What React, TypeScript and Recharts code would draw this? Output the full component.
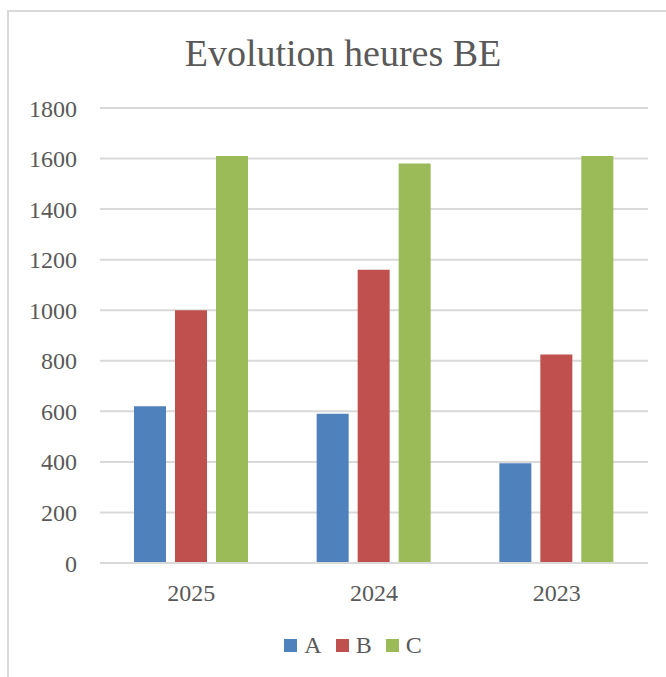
import React from "react";
import { BarChart, Bar, XAxis, YAxis, CartesianGrid, Legend } from "recharts";

const categories = ["2025", "2024", "2023"];
const seriesA = [620, 590, 395];
const seriesB = [1000, 1160, 825];
const seriesC = [1610, 1580, 1610];
const yTicks = [0, 200, 400, 600, 800, 1000, 1200, 1400, 1600, 1800];
const seriesNames = ["A", "B", "C"];
const colors = ["#4F81BD", "#C0504D", "#9BBB59"];

const data = categories.map((c, i) => ({ year: c, A: seriesA[i], B: seriesB[i], C: seriesC[i] }));

const FONT = "'Liberation Serif', 'DejaVu Serif', serif";
const TEXT = "#595959";

const renderLegend = () => (
  <div style={{ display: "flex", justifyContent: "center", alignItems: "center", fontFamily: FONT, fontSize: 24, color: TEXT, paddingLeft: 40 }}>
    {seriesNames.map((n, i) => (
      <div key={n} style={{ display: "flex", alignItems: "center", marginRight: i < 2 ? 14 : 0 }}>
        <span style={{ display: "inline-block", width: 13, height: 13, background: colors[i], marginRight: 7 }} />
        <span>{n}</span>
      </div>
    ))}
  </div>
);

export default function App() {
  return (
    <div style={{ position: "fixed", left: 0, top: 0, width: 666, height: 677, overflow: "hidden", background: "#fff" }}>
      <div style={{ position: "absolute", left: 7, top: 10, width: 700, height: 700, border: "2px solid #D9D9D9", boxSizing: "border-box" }} />
      <div style={{ position: "absolute", left: 0, top: 31, width: 686, textAlign: "center", fontFamily: FONT, fontSize: 38, color: TEXT, lineHeight: "44px" }}>
        Evolution heures BE
      </div>
      <div style={{ position: "absolute", left: 0, top: 0 }}>
        <BarChart width={666} height={677} data={data} margin={{ top: 108, right: 18, left: 0, bottom: 74 }} barSize={32} barGap={9}>
          <CartesianGrid vertical={false} stroke="#D9D9D9" strokeWidth={2} />
          <XAxis dataKey="year" height={40} axisLine={{ stroke: "#D9D9D9", strokeWidth: 2 }} tickLine={false} tickSize={0} tickMargin={21}
            tick={{ fontFamily: FONT, fontSize: 24, fill: TEXT }} />
          <YAxis width={100} domain={[0, 1800]} ticks={yTicks} axisLine={false} tickLine={false} tickSize={0} tickMargin={23}
            tick={{ fontFamily: FONT, fontSize: 24, fill: TEXT }} />
          <Legend layout="horizontal" verticalAlign="middle" align="center" wrapperStyle={{ top: 632, left: 0, width: 666 }} content={renderLegend} />
          <Bar dataKey="A" fill={colors[0]} isAnimationActive={false} />
          <Bar dataKey="B" fill={colors[1]} isAnimationActive={false} />
          <Bar dataKey="C" fill={colors[2]} isAnimationActive={false} />
        </BarChart>
      </div>
    </div>
  );
}
